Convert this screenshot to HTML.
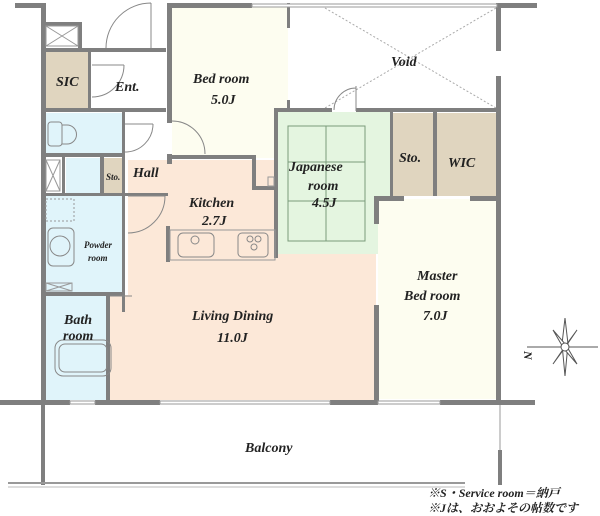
<!DOCTYPE html>
<html><head><meta charset="utf-8"><style>
html,body{margin:0;padding:0;background:#fff}
svg{display:block}
text{font-family:"Liberation Serif","Noto Serif CJK SC",serif;font-style:italic;font-weight:bold;fill:#222}
</style></head><body>
<svg width="600" height="516" viewBox="0 0 600 516" xmlns="http://www.w3.org/2000/svg">
<rect x="172" y="7" width="116" height="103" fill="#fdfdf0"/>
<rect x="172" y="110" width="104" height="48" fill="#fdfdf0"/>
<rect x="128" y="160" width="248" height="240" fill="#fce8d8"/>
<rect x="110" y="295" width="20" height="105" fill="#fce8d8"/>
<rect x="278" y="112" width="112" height="142" fill="#e4f5e0"/>
<rect x="393" y="113" width="40" height="83" fill="#e0d5bf"/>
<rect x="437" y="113" width="59" height="83" fill="#e0d5bf"/>
<rect x="378" y="199" width="118" height="200" fill="#fdfdf0"/>
<rect x="46" y="52" width="42" height="56" fill="#e0d5bf"/>
<rect x="104" y="158" width="18" height="35" fill="#e0d5bf"/>
<rect x="46" y="113" width="76" height="40" fill="#e0f4fa"/>
<rect x="66" y="158" width="34" height="35" fill="#e0f4fa"/>
<rect x="46" y="196" width="76" height="96" fill="#e0f4fa"/>
<rect x="46" y="296" width="62" height="104" fill="#e0f4fa"/>
<g stroke="#7a9a7a" stroke-width="1" fill="none">
<rect x="288" y="126" width="77" height="115"/>
<line x1="326" y1="126" x2="326" y2="241"/>
<line x1="288" y1="162" x2="365" y2="162"/>
<line x1="288" y1="201" x2="365" y2="201"/>
</g>
<g stroke="#aaa" stroke-width="1" stroke-dasharray="2,2">
<line x1="325" y1="8" x2="496" y2="108"/>
<line x1="496" y1="8" x2="325" y2="108"/>
</g>
<g fill="#7f7f7f">
<rect x="15" y="3" width="30" height="5"/>
<rect x="41" y="3" width="5" height="400"/>
<rect x="167" y="3" width="85" height="5"/>
<rect x="497" y="3" width="40" height="5"/>
<rect x="496" y="3" width="5" height="48"/>
<rect x="496" y="76" width="5" height="324"/>
<rect x="167" y="3" width="5" height="120"/>
<rect x="167" y="154" width="5" height="10"/>
<rect x="287" y="3" width="3" height="25"/>
<rect x="287" y="100" width="3" height="10"/>
<rect x="274" y="108" width="58" height="4"/>
<rect x="356" y="108" width="143" height="4"/>
<rect x="274" y="108" width="4" height="150"/>
<rect x="252" y="155" width="4" height="35"/>
<rect x="168" y="155" width="84" height="4"/>
<rect x="256" y="186" width="18" height="4"/>
<rect x="390" y="112" width="3" height="84"/>
<rect x="433" y="112" width="4" height="84"/>
<rect x="374" y="196" width="30" height="5"/>
<rect x="470" y="196" width="29" height="5"/>
<rect x="374" y="196" width="5" height="28"/>
<rect x="374" y="305" width="5" height="97"/>
<rect x="44" y="22" width="38" height="4"/>
<rect x="78" y="22" width="4" height="26"/>
<rect x="44" y="48" width="122" height="4"/>
<rect x="88" y="52" width="3" height="56"/>
<rect x="44" y="108" width="122" height="4"/>
<rect x="122" y="112" width="3" height="200"/>
<rect x="44" y="153" width="80" height="4"/>
<rect x="62" y="157" width="3" height="36"/>
<rect x="100" y="157" width="4" height="36"/>
<rect x="44" y="193" width="124" height="3"/>
<rect x="44" y="292" width="80" height="4"/>
<rect x="106" y="296" width="4" height="106"/>
<rect x="0" y="400" width="70" height="5"/>
<rect x="95" y="400" width="65" height="5"/>
<rect x="330" y="400" width="48" height="5"/>
<rect x="440" y="400" width="95" height="5"/>
<rect x="41" y="405" width="4" height="80"/>
<rect x="498" y="450" width="4" height="35"/>
<rect x="166" y="226" width="4" height="36"/>
</g>
<g stroke="#999" fill="#fff" stroke-width="1">
<rect x="252" y="4" width="245" height="3"/>
<rect x="160" y="401" width="170" height="3"/>
<rect x="378" y="401" width="62" height="3"/>
<rect x="70" y="401" width="25" height="3"/>
</g>
<line x1="8" y1="483" x2="465" y2="483" stroke="#999" stroke-width="2"/>
<line x1="8" y1="487" x2="465" y2="487" stroke="#bbb" stroke-width="1"/>
<line x1="500" y1="405" x2="500" y2="450" stroke="#999"/>
<g stroke="#888" fill="none" stroke-width="1">
<path d="M151 3 V48 M106 48 A45 45 0 0 1 151 3"/>
<path d="M92 65 h32 M92 97 A32 32 0 0 0 124 65"/>
<path d="M125 124 h28 M125 152 A28 28 0 0 0 153 124"/>
<path d="M172 121 A33 33 0 0 1 205 154"/>
<path d="M128 196 h37 M128 233 A37 37 0 0 0 165 196"/>
<path d="M356 86 V111 M334 110 A22 22 0 0 1 356 88"/>
<path d="M110 296 h22"/>
<rect x="170" y="230" width="105" height="30" stroke="#999"/>
<rect x="178" y="233" width="36" height="24" rx="5"/>
<rect x="238" y="233" width="30" height="24" rx="4"/>
<circle cx="195" cy="240" r="4"/>
<circle cx="250" cy="239" r="3"/><circle cx="258" cy="239" r="3"/><circle cx="254" cy="247" r="3"/>
<rect x="48" y="122" width="14" height="24" rx="3"/>
<path d="M62 125 h5 A9 9 0 0 1 67 144 h-5"/>
<rect x="48" y="228" width="26" height="38" rx="5"/>
<circle cx="60" cy="246" r="10"/>
<rect x="55" y="340" width="56" height="36" rx="8"/>
<rect x="59" y="344" width="48" height="28" rx="6"/>
</g>
<g stroke="#999" fill="none">
<rect x="46" y="26" width="32" height="20"/><path d="M46 26 L78 46 M78 26 L46 46"/>
<rect x="46" y="160" width="14" height="31"/><path d="M46 160 L60 191 M60 160 L46 191"/>
<rect x="46" y="199" width="28" height="22" stroke-dasharray="2,2"/>
<rect x="46" y="283" width="26" height="8"/><path d="M46 283 L72 291 M72 283 L46 291"/>
<rect x="268" y="177" width="6" height="9"/>
</g>
<g stroke="#555" stroke-width="1" fill="#fff">
<line x1="527" y1="347" x2="598" y2="347"/>
<polygon points="565,318 568,344 565,376 562,344"/>
<polygon points="553,330 566,345 577,364 564,349"/>
<polygon points="577,330 566,345 553,364 564,349"/>
<circle cx="565" cy="347" r="4"/>
</g>
<text x="524" y="351" font-size="12" font-style="normal" transform="rotate(90 524 351)">N</text>
<g font-size="14">
<text x="56" y="86">SIC</text>
<text x="115" y="91">Ent.</text>
<text x="193" y="83">Bed room</text>
<text x="211" y="104">5.0J</text>
<text x="391" y="66">Void</text>
<text x="289" y="171">Japanese</text>
<text x="308" y="190">room</text>
<text x="312" y="207">4.5J</text>
<text x="399" y="162">Sto.</text>
<text x="448" y="167">WIC</text>
<text x="133" y="177">Hall</text>
<text x="189" y="207">Kitchen</text>
<text x="202" y="225">2.7J</text>
<text x="192" y="320">Living Dining</text>
<text x="217" y="342">11.0J</text>
<text x="417" y="280">Master</text>
<text x="404" y="300">Bed room</text>
<text x="423" y="320">7.0J</text>
<text x="64" y="324">Bath</text>
<text x="63" y="340">room</text>
<text x="245" y="452">Balcony</text>
</g>
<text x="106" y="180" font-size="9">Sto.</text>
<text x="84" y="248" font-size="9">Powder</text>
<text x="88" y="261" font-size="9">room</text>
<g font-size="12" font-weight="normal">
<text x="428" y="497" font-style="normal">※<tspan font-style="italic">S・Service room</tspan>＝納戸</text>
<text x="428" y="512" font-style="normal">※Jは、おおよその帖数です</text>
</g>
</svg>
</body></html>
